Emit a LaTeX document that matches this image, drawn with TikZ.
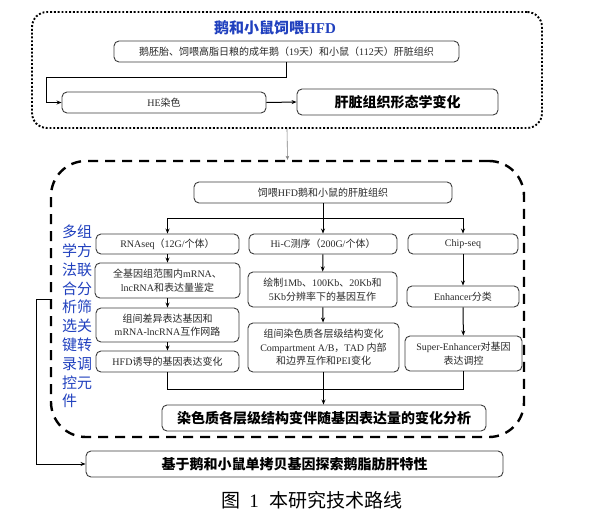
\documentclass[tikz,border=0pt]{standalone}
\usepackage{fontspec}
\setmainfont{Liberation Serif}
\newfontfamily\cjk{Noto Sans CJK SC}
\newcommand\zh[1]{{\cjk #1}}
\usetikzlibrary{arrows.meta}
\definecolor{titleblue}{RGB}{32,64,190}
\definecolor{boxline}{RGB}{60,60,60}
\definecolor{boxtext}{RGB}{40,40,40}
\tikzset{
  sbox/.style={draw=boxline, line width=0.9pt, rounded corners=5pt, align=center, inner sep=0pt,
    text=boxtext, font=\fontsize{10}{13.5}\selectfont},
  bbox/.style={draw=boxline, line width=0.9pt, rounded corners=5pt, align=center, inner sep=0pt,
    text=black, font=\fontsize{14}{16}\selectfont\bfseries},
  arr/.style={line width=1pt, -{Stealth[length=5pt,width=4pt]}},
  conn/.style={line width=1pt},
  dotframe/.style={draw, line width=1.9pt, dash pattern=on 1.9pt off 1.9pt, rounded corners=15pt, inner sep=0pt},
  dashframe/.style={draw, line width=2.4pt, dash pattern=on 10pt off 7pt, rounded corners=35pt, inner sep=0pt},
}
\begin{document}
\begin{tikzpicture}[x=1pt,y=-1pt]
\useasboundingbox (0,0) rectangle (595,520);
% frames
\node[dotframe, minimum width=510pt, minimum height=116pt] (topf) at (287,70) {};
\node[dashframe, minimum width=473pt, minimum height=276pt] (midf) at (287.5,299) {};
% top part
\node[text=titleblue, font=\fontsize{15}{17}\selectfont\bfseries] (t1) at (275,28) {\zh{鹅和小鼠饲喂}HFD};
\node[sbox, minimum width=345pt, minimum height=21pt] (b1) at (286.5,51.5) {\zh{鹅胚胎、饲喂高脂日粮的成年鹅（}19\zh{天）和小鼠（}112\zh{天）肝脏组织}};
\node[sbox, minimum width=204pt, minimum height=21pt] (he) at (164,102.5) {HE\zh{染色}};
\node[bbox, minimum width=201pt, minimum height=26pt] (mo) at (397.5,102) {\zh{肝脏组织形态学变化}};
\coordinate (k1) at (46,77);
\draw[arr] (b1.south) |- (k1) |- (he.west);
\draw[arr] (he.east) -- (mo.west);
\draw[gray, line width=0.6pt, -{Stealth[length=4pt,width=3.5pt]}] (topf.south) -- (midf.north);
% blue vertical text
\node[text=titleblue, align=center, font=\fontsize{15}{18.8}\selectfont] (vt) at (77,316.5)
  {\zh{多组}\\\zh{学方}\\\zh{法联}\\\zh{合分}\\\zh{析筛}\\\zh{选关}\\\zh{键转}\\\zh{录调}\\\zh{控元}\\\zh{件}\hphantom{\zh{件}}};
% middle
\node[sbox, minimum width=258pt, minimum height=21pt] (fd) at (323,192.5) {\zh{饲喂}HFD\zh{鹅和小鼠的肝脏组织}};
\node[sbox, minimum width=143pt, minimum height=20pt] (r0) at (167.5,244) {RNAseq\zh{（}12G/\zh{个体）}};
\node[sbox, minimum width=148pt, minimum height=20pt] (h0) at (323,244) {Hi-C\zh{测序（}200G/\zh{个体）}};
\node[sbox, minimum width=110pt, minimum height=20pt] (c0) at (463,244) {Chip-seq};
\node[sbox, minimum width=145pt, minimum height=35pt] (r1) at (167.5,280.5) {\zh{全基因组范围内}mRNA\zh{、}\\lncRNA\zh{和表达量鉴定}};
\node[sbox, minimum width=143pt, minimum height=34pt] (r2) at (167.5,325) {\zh{组间差异表达基因和}\\mRNA-lncRNA\zh{互作网路}};
\node[sbox, minimum width=143pt, minimum height=21pt] (r3) at (167.5,361.5) {HFD\zh{诱导的基因表达变化}};
\node[sbox, minimum width=149pt, minimum height=35pt] (h1) at (322.5,289.5) {\zh{绘制}1Mb\zh{、}100Kb\zh{、}20Kb\zh{和}\\5Kb\zh{分辨率下的基因互作}};
\node[sbox, minimum width=151pt, minimum height=49pt] (h2) at (323.5,347.5) {\zh{组间染色质各层级结构变化}\\Compartment A/B\zh{，}TAD \zh{内部}\\\zh{和边界互作和}PEI\zh{变化}};
\node[sbox, minimum width=112pt, minimum height=21pt] (c1) at (463,296.5) {Enhancer\zh{分类}};
\node[sbox, minimum width=117pt, minimum height=35pt] (c2) at (463.5,353.5) {Super-Enhancer\zh{对基因}\\\zh{表达调控}};
\node[bbox, minimum width=324pt, minimum height=26pt] (bg) at (324,418) {\zh{染色质各层级结构变伴随基因表达量的变化分析}};
\node[bbox, minimum width=417pt, minimum height=26pt] (bt) at (294.5,464) {\zh{基于鹅和小鼠单拷贝基因探索鹅脂肪肝特性}};
% connectors
\coordinate (sp) at (323,218);
\draw[conn] (fd.south) -- (sp);
\draw[arr] (sp) -| (r0.north);
\draw[arr] (sp) -| (c0.north);
\draw[arr] (sp) -- (h0.north);
\draw[arr] (r0) -- (r1);
\draw[arr] (r1) -- (r2);
\draw[arr] (r2) -- (r3);
\draw[arr] (h0) -- (h1);
\draw[arr] (h1) -- (h2);
\draw[arr] (c0) -- (c1);
\draw[arr] (c1) -- (c2);
\coordinate (ml) at (0,389);
\draw[conn] (r3.south) |- (c2.south |- ml) -- (c2.south);
\draw[arr] (h2.south) -- (h2.south |- bg.north);
\coordinate (lc) at (36,299);
\draw[arr] (lc -| midf.west) -- (lc) |- (bt.west);
% caption
\node[font=\fontsize{19}{22}\selectfont] (cap) at (312,500) {\zh{图}\hspace{9pt}1\hspace{11pt}\zh{本研究技术路线}};
\end{tikzpicture}
\end{document}
